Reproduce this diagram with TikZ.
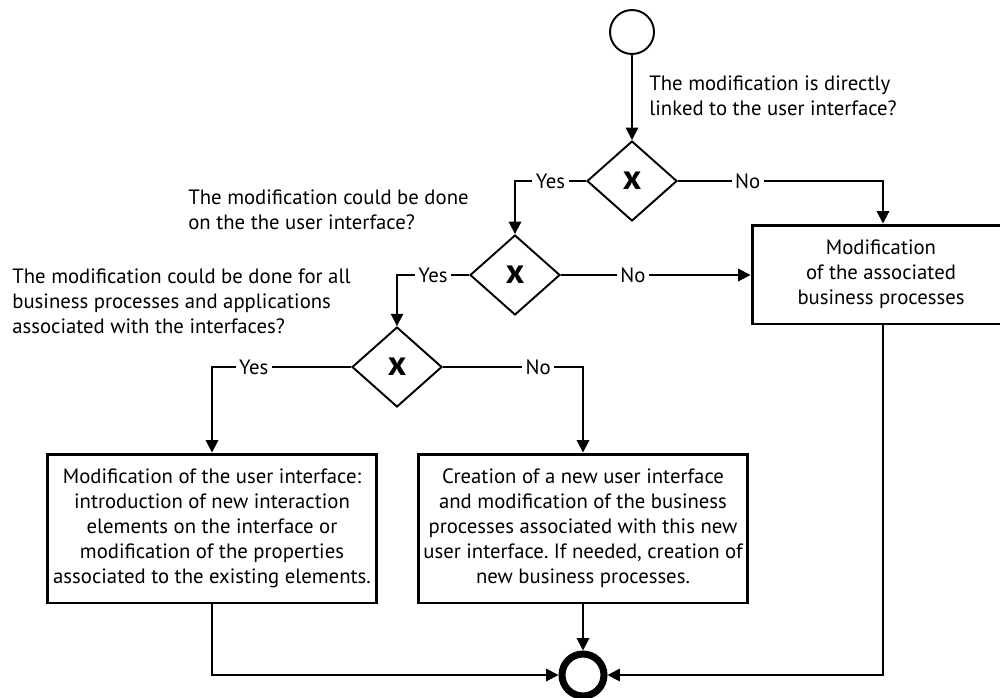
\documentclass[tikz,border=0pt]{standalone}
\usepackage{fontspec}
\setmainfont{PT Sans}
\frenchspacing
\usetikzlibrary{shapes.geometric,arrows.meta}
\tikzset{>={Triangle[length=7pt,width=7pt]}}

\begin{document}
\begin{tikzpicture}[x=0.02cm,y=-0.02cm,
    font=\fontsize{11.8}{14.2}\selectfont,
    task/.style={draw,line width=1.7pt,align=center,inner sep=0pt},
    gate/.style={diamond,draw,line width=1.1pt,inner sep=0pt,minimum width=1.8cm,minimum height=1.6cm,font=\fontsize{20}{20}\selectfont\bfseries},
    flow/.style={->,line width=1.1pt},
    lbl/.style={fill=white,inner sep=2pt},
    quest/.style={anchor=west,align=left,inner sep=0pt}]
        \useasboundingbox (0,0) rectangle (1000,697);
        \node[circle,draw,line width=1.1pt,minimum size=0.88cm,inner sep=0pt] (start) at (632,32) {};
        \node[gate] (g1) at (632,181) {x};
        \node[gate] (g2) at (515,275) {x};
        \node[gate] (g3) at (397,367) {x};
        \node[task,minimum width=5.16cm,minimum height=1.98cm] (bp) at (881,274.5)
            {Modification\\of the associated\\business processes};
        \node[task,minimum width=6.6cm,minimum height=2.98cm] (ui) at (212,528.5)
            {Modification of the user interface:\\introduction of new interaction\\elements on the interface or\\modification of the properties\\associated to the existing elements.};
        \node[task,minimum width=6.6cm,minimum height=2.98cm] (newui) at (583,528.5)
            {Creation of a new user interface\\and modification of the business\\processes associated with this new\\user interface. If needed, creation of\\new business processes.};
        \node[circle,draw,line width=4pt,minimum size=0.84cm,inner sep=0pt] (end) at (583,675) {};
        % questions
        \node[quest] (q1) at (649,96) {The modification is directly\\linked to the user interface?};
        \node[quest] (q2) at (188,210) {The modification could be done\\on the the user interface?};
        \node[quest] (q3) at (12,301) {The modification could be done for all\\business processes and applications\\associated with the interfaces?};
        % flows
        \draw[flow] (start) -- (g1);
        \draw[flow] (g1.west) -| node[lbl,pos=0.25] {Yes} (g2.north);
        \draw[flow] (g1.east) -| node[lbl,pos=0.17] {No} (bp.north -| 883,0);
        \draw[flow] (g2.west) -| node[lbl,pos=0.25] {Yes} (g3.north);
        \draw[flow] (g2.east) -- node[lbl,pos=0.38] {No} (bp.west |- g2.east);
        \draw[flow] (g3.west) -| node[lbl,pos=0.35] {Yes} (ui.north);
        \draw[flow] (g3.east) -| node[lbl,pos=0.34] {No} (newui.north);
        \draw[flow] (ui.south) |- (end.west);
        \draw[flow] (newui.south) -- (end.north);
        \draw[flow] (bp.south -| 883,0) |- (end.east);
\end{tikzpicture}
\end{document}
